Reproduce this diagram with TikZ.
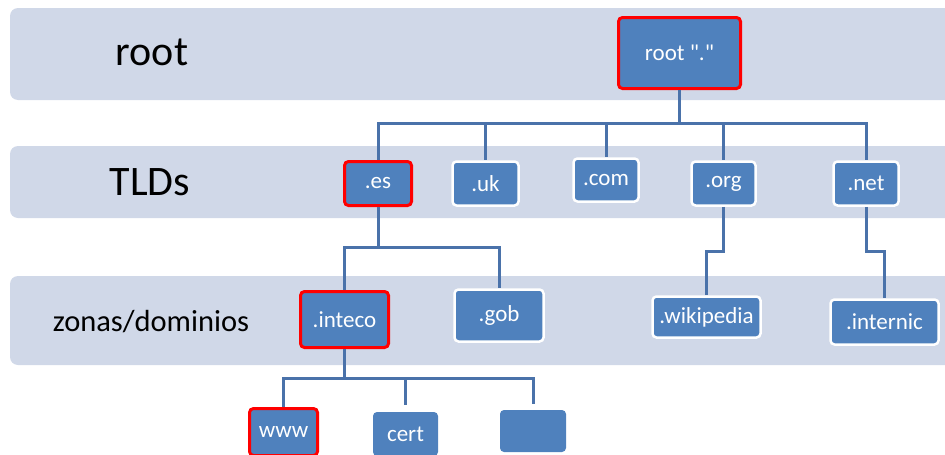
\documentclass[tikz,border=0pt]{standalone}
\usepackage{fontspec}
\setmainfont{Carlito}[Ligatures=TeXOff]
\usetikzlibrary{calc}
\definecolor{bandfill}{HTML}{D0D8E8}
\definecolor{boxfill}{HTML}{4F81BD}
\definecolor{linkcol}{HTML}{4A72AA}
\tikzset{
  band/.style={fill=bandfill, rounded corners=8pt},
  zone/.style={fill=boxfill, rounded corners=4pt, text=white, inner sep=0pt,
    font=\fontsize{23}{27}\selectfont},
  whiteedge/.style={draw=white, line width=2.5pt},
  rededge/.style={draw=red, line width=3pt},
  link/.style={draw=linkcol, line width=3pt},
  level/.style={font=\fontsize{42}{48}\selectfont}
}

\begin{document}
\begin{tikzpicture}[x=1pt,y=-1pt]
            \useasboundingbox (0,0) rectangle (945,455);
            % levels
            \fill[band] (10,8) rectangle (965,100);
            \fill[band] (10,146) rectangle (965,218);
            \fill[band] (10,276) rectangle (965,365);
            \node[level] (lroot) at (152,52) {root};
            \node[level] (ltld) at (150,182) {TLDs};
            \node[font=\fontsize{30.5}{36}\selectfont] (lzone) at (151,322) {zonas/dominios};

            % root and TLDs
            \node[zone, rededge, minimum width=122pt, minimum height=71pt] (root) at (679.5,53) {root "."};
            \node[zone, rededge, minimum width=67pt, minimum height=44pt] (es) at (378,183.5) {.es};
            \node[zone, whiteedge, minimum width=66pt, minimum height=44pt] (uk) at (485.5,183.5) {.uk};
            \node[zone, whiteedge, minimum width=65pt, minimum height=43pt] (com) at (606,180) {.com};
            \node[zone, whiteedge, minimum width=64pt, minimum height=44pt] (org) at (723.5,183.5) {.org};
            \node[zone, whiteedge, minimum width=65pt, minimum height=44pt] (net) at (866,183.5) {.net};

            % zonas
            \node[zone, rededge, minimum width=88pt, minimum height=56pt] (inteco) at (344.5,319.5) {.inteco};
            \node[zone, whiteedge, minimum width=89pt, minimum height=52pt] (gob) at (499,315.5) {.gob};
            \node[zone, whiteedge, minimum width=108pt, minimum height=41pt] (wikipedia) at (706.5,317) {.wikipedia};
            \node[zone, whiteedge, minimum width=108pt, minimum height=45pt] (internic) at (884.5,322) {.internic};

            % hosts
            \node[zone, rededge, minimum width=68pt, minimum height=47pt] (www) at (283.5,432) {www};
            \node[zone, minimum width=65pt, minimum height=44pt] (cert) at (405.5,434) {cert};
            \node[zone, minimum width=66pt, minimum height=42pt] (blank) at (533,431) {};

            \foreach \t in {es,uk,com,org,net}
            {
            \draw[link] (root.south) -- ++(0,33) -| (\t.north);
            }
            \foreach \z in {inteco,gob}
            {
            \draw[link] (es.south) -- ++(0,40) -| (\z.north);
            }
            \draw[link] (org.south) -- ++(0,45) -| (wikipedia.north);
            \draw[link] (net.south) -- ++(0,45) -| (internic.north);

            \draw[link] (inteco.south) -- ++(0,29) -| (www.north);
            \draw[link, shorten >=7pt] (inteco.south) -- ++(0,29) -| (cert.north);
            \draw[link, shorten >=6pt] (inteco.south) -- ++(0,29) -| (blank.north);
\end{tikzpicture}
\end{document}
